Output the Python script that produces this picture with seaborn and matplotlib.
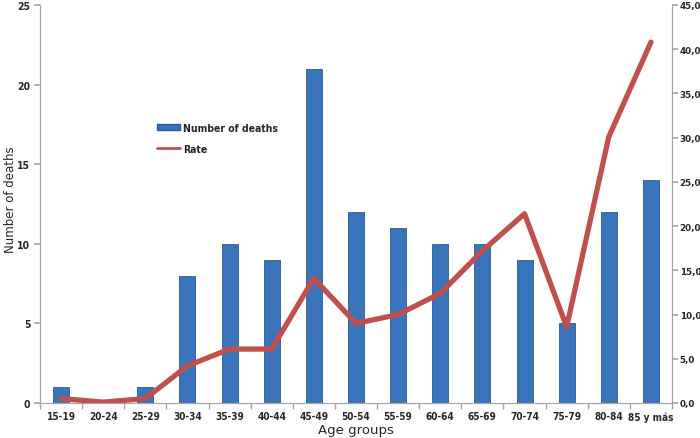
import numpy as np
import matplotlib
matplotlib.use('Agg')
import matplotlib.pyplot as plt
import seaborn as sns
from matplotlib.lines import Line2D
from matplotlib.patches import Patch

age_groups = ['15-19', '20-24', '25-29', '30-34', '35-39', '40-44', '45-49', '50-54',
              '55-59', '60-64', '65-69', '70-74', '75-79', '80-84', '85 y más']
deaths = [1, 0, 1, 8, 10, 9, 21, 12, 11, 10, 10, 9, 5, 12, 14]
rate = [0.5, 0.1, 0.5, 4.2, 6.1, 6.1, 14.1, 9.0, 10.0, 12.4, 17.2, 21.4, 8.6, 30.1, 40.8]

bar_color = '#3a74ba'
line_color = '#c0504d'
grey = '#a6a6a6'

sns.set_theme(style='white')
plt.rcParams['font.family'] = ['DejaVu Sans']

fig = plt.figure(figsize=(7, 4.39), dpi=100)
ax = fig.add_axes([40 / 700, 35 / 439, 632 / 700, 398 / 439])

sns.barplot(x=age_groups, y=deaths, color=bar_color, width=0.38,
            edgecolor='#2a5a96', linewidth=0.6, saturation=1, ax=ax)
ax.set_ylim(0, 25)
ax.set_xlim(-0.5, len(age_groups) - 0.5)
ax.set_yticks(range(0, 26, 5))
ax.set_xlabel('Age groups', fontsize=9.5, labelpad=1)
ax.set_ylabel('')
ax.tick_params(axis='x', length=0, labelsize=7.2, pad=6)
ax.tick_params(axis='y', length=4, labelsize=7.5, color=grey, left=True, pad=3)
for lab in ax.get_xticklabels() + ax.get_yticklabels():
    lab.set_fontweight('bold')
    lab.set_fontstretch('condensed')
# y label placed in figure pixels so it sits clear of the left edge
fig.text(11 / 700, 1 - 200 / 439, 'Number of deaths', rotation=90, fontsize=8.5,
         ha='center', va='center', color='#262626')

# category boundary ticks like the reference
ax.set_xticks(np.arange(-0.5, len(age_groups)), minor=True)
ax.tick_params(axis='x', which='minor', length=4, color=grey, bottom=True)

ax2 = ax.twinx()
sns.lineplot(x=np.arange(len(age_groups)), y=rate, color=line_color,
             linewidth=3.8, ax=ax2)
ax2.set_ylim(0, 45)
ax2.set_yticks(np.arange(0, 46, 5))
ax2.set_yticklabels([f'{v:.1f}'.replace('.', ',') for v in np.arange(0, 46, 5)],
                    fontsize=6.3, fontweight='bold')
ax2.tick_params(axis='y', length=4, color=grey, right=True, pad=1.5)
ax2.set_ylabel('')

for a in (ax, ax2):
    a.spines['top'].set_visible(False)
    for s in ('left', 'right', 'bottom'):
        a.spines[s].set_color(grey)
        a.spines[s].set_linewidth(0.8)

handles = [Patch(facecolor=bar_color, edgecolor='#2a5a96'),
           Line2D([0], [0], color=line_color, linewidth=2)]
ax.legend(handles, ['Number of deaths', 'Rate'], loc='center left',
          bbox_to_anchor=(0.17, 0.665), frameon=False, handlelength=2.2,
          handleheight=0.5, labelspacing=1.0, handletextpad=0.3,
          prop={'size': 7.5, 'weight': 'bold', 'stretch': 'condensed'})

fig.savefig('out.png', dpi=100)
